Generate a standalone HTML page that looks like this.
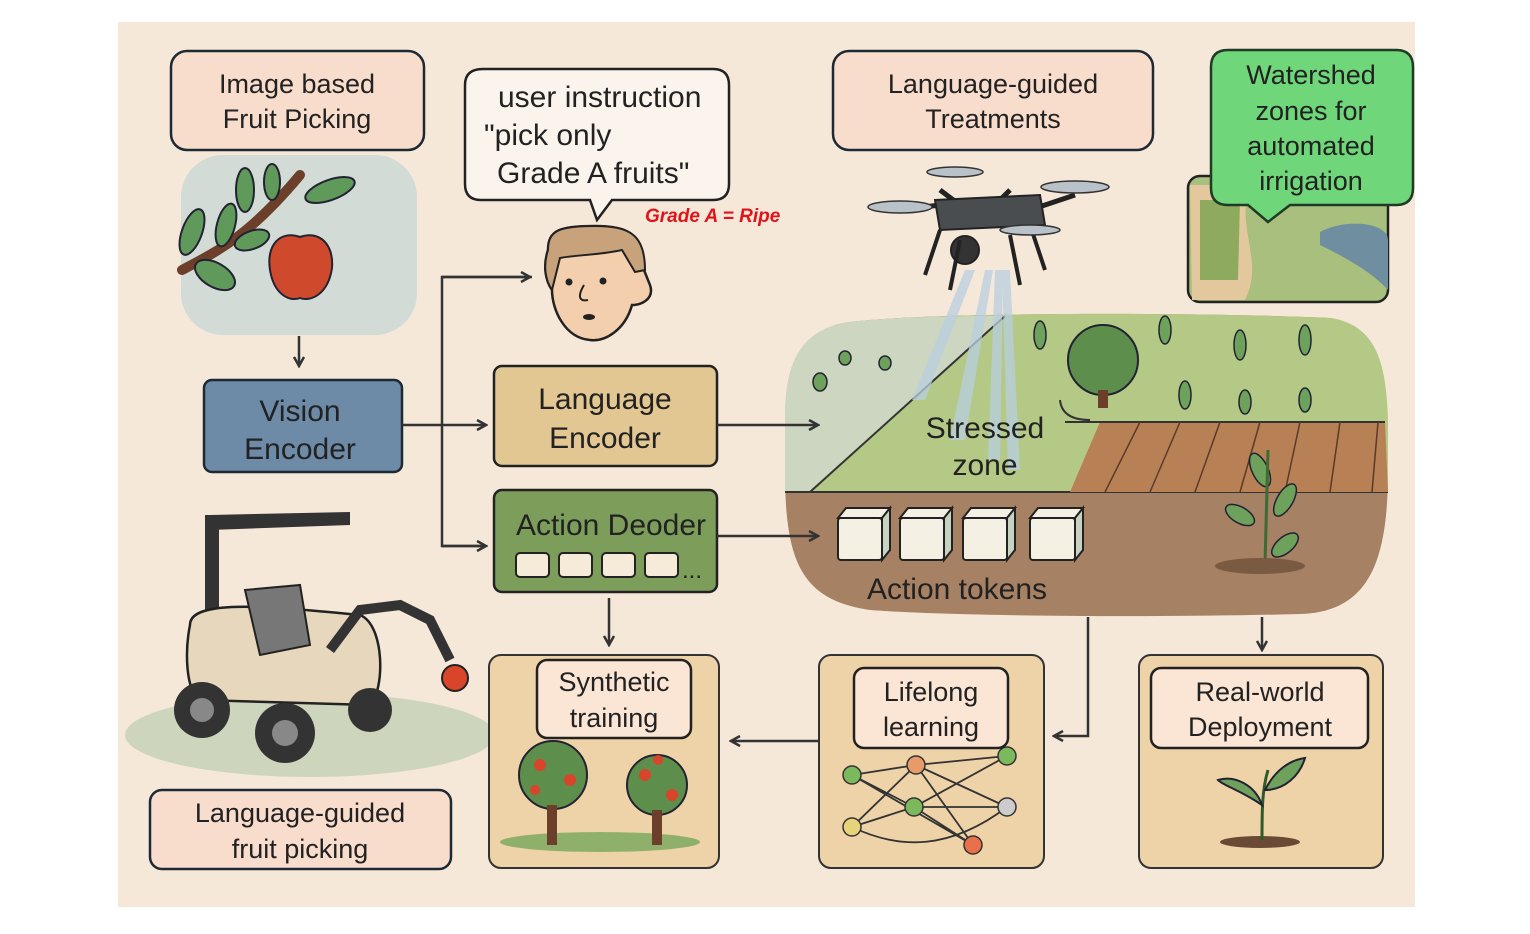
<!DOCTYPE html>
<html><head><meta charset="utf-8"><style>
html,body{margin:0;padding:0;background:#fff;}
svg{display:block;}
text{font-family:"Liberation Sans",sans-serif;fill:#222;}
</style></head><body>
<svg width="1530" height="934" viewBox="0 0 1530 934" xmlns="http://www.w3.org/2000/svg">
<defs>
<marker id="ah" viewBox="0 0 12 12" refX="10" refY="6" markerWidth="12" markerHeight="12" markerUnits="userSpaceOnUse" orient="auto">
<path d="M1,1 L10,6 L1,11" fill="none" stroke="#333" stroke-width="2.5"/>
</marker>
</defs>
<rect x="118" y="22" width="1297" height="885" fill="#f6e8d9"/>

<rect x="171" y="51" width="253" height="99" rx="16" fill="#f8dccc" stroke="#1e2a33" stroke-width="2.5"/>
<text x="297" y="93" font-size="27" text-anchor="middle">Image based</text>
<text x="297" y="128" font-size="27" text-anchor="middle">Fruit Picking</text>

<rect x="181" y="155" width="236" height="180" rx="42" fill="#d2dbd5"/>
<path d="M182,270 C220,250 250,235 300,175" stroke="#6b3f2a" stroke-width="10" fill="none" stroke-linecap="round"/>
<g fill="#5f9a5a" stroke="#223" stroke-width="2">
<ellipse cx="192" cy="232" rx="10" ry="24" transform="rotate(20 192 232)"/>
<ellipse cx="226" cy="225" rx="9" ry="22" transform="rotate(15 226 225)"/>
<ellipse cx="245" cy="190" rx="9" ry="22"/>
<ellipse cx="272" cy="182" rx="8" ry="18"/>
<ellipse cx="330" cy="190" rx="26" ry="10" transform="rotate(-20 330 190)"/>
<ellipse cx="215" cy="275" rx="22" ry="12" transform="rotate(30 215 275)"/>
<ellipse cx="252" cy="240" rx="18" ry="9" transform="rotate(-20 252 240)"/>
</g>
<path d="M300,237 C280,230 266,245 270,270 C274,295 290,302 300,298 C310,302 328,295 332,268 C334,245 320,230 300,237Z" fill="#cf4a2c" stroke="#223" stroke-width="2"/>

<line x1="299" y1="336" x2="299" y2="366" stroke="#333" stroke-width="2.5" marker-end="url(#ah)"/>

<rect x="204" y="380" width="198" height="92" rx="8" fill="#6d8aa6" stroke="#1e2a33" stroke-width="2.5"/>
<text x="300" y="421" font-size="30" text-anchor="middle">Vision</text>
<text x="300" y="459" font-size="30" text-anchor="middle">Encoder</text>

<path d="M483,69 H713 Q729,69 729,85 V184 Q729,200 713,200 H612 L597,220 L590,200 H481 Q465,200 465,184 V85 Q465,69 483,69Z" fill="#fbf4ec" stroke="#222" stroke-width="2.5"/>
<text x="498" y="107" font-size="30">user instruction</text>
<text x="484" y="145" font-size="30">"pick only</text>
<text x="497" y="183" font-size="30">Grade A fruits"</text>
<text x="645" y="222" font-size="19" font-weight="bold" font-style="italic" style="fill:#e0141a">Grade A = Ripe</text>

<path d="M548,250 C548,230 560,226 595,226 C630,226 640,235 640,260 L650,285 C655,300 640,305 632,305 C625,330 605,342 590,340 C565,338 552,310 552,290 C545,280 543,265 548,250Z" fill="#f4cfae" stroke="#222" stroke-width="2.5"/>
<path d="M548,250 C548,230 560,226 595,226 C630,226 645,235 645,270 L635,272 L622,250 C600,255 575,255 560,258 L552,290 C545,280 543,265 548,250Z" fill="#c8a27a" stroke="#222" stroke-width="2"/>
<circle cx="569" cy="282" r="3.5" fill="#222"/><circle cx="603" cy="281" r="3.5" fill="#222"/>
<path d="M584,285 C578,295 578,302 588,300" fill="none" stroke="#222" stroke-width="2"/>
<ellipse cx="589" cy="317" rx="6" ry="3" fill="#222"/>

<line x1="402" y1="425" x2="486" y2="425" stroke="#333" stroke-width="2.5" marker-end="url(#ah)"/>
<polyline points="532,277 442,277 442,546 486,546" fill="none" stroke="#333" stroke-width="2.5"/>
<line x1="442" y1="277" x2="530" y2="277" stroke="#333" stroke-width="2.5" marker-end="url(#ah)"/>
<line x1="442" y1="546" x2="486" y2="546" stroke="#333" stroke-width="2.5" marker-end="url(#ah)"/>

<rect x="494" y="366" width="223" height="100" rx="8" fill="#e2c793" stroke="#222" stroke-width="2.5"/>
<text x="605" y="409" font-size="30" text-anchor="middle">Language</text>
<text x="605" y="448" font-size="30" text-anchor="middle">Encoder</text>

<rect x="494" y="490" width="223" height="102" rx="8" fill="#7c9e5a" stroke="#222" stroke-width="2.5"/>
<text x="611" y="535" font-size="30" text-anchor="middle">Action Deoder</text>
<g fill="#f6ead8" stroke="#222" stroke-width="2">
<rect x="516" y="553" width="33" height="24" rx="4"/><rect x="559" y="553" width="33" height="24" rx="4"/>
<rect x="602" y="553" width="33" height="24" rx="4"/><rect x="645" y="553" width="33" height="24" rx="4"/>
</g>
<text x="682" y="578" font-size="24">...</text>
<line x1="609" y1="598" x2="609" y2="645" stroke="#333" stroke-width="2.5" marker-end="url(#ah)"/>

<path d="M850,322 C930,312 1200,312 1330,318 C1380,325 1388,380 1388,470 C1388,560 1370,612 1300,614 C1150,618 950,616 870,610 C800,600 785,560 785,470 C785,380 790,330 850,322Z" fill="#a68163"/>
<path d="M850,322 C930,312 1200,312 1330,318 C1380,325 1386,370 1388,420 L1388,492 L785,492 L785,420 C785,370 795,330 850,322Z" fill="#b4c986"/>
<path d="M850,322 C880,318 940,316 1005,316 L810,492 L785,492 L785,420 C785,370 795,330 850,322Z" fill="#cdd6c0"/>
<path d="M1005,316 L810,492" stroke="#333" stroke-width="2"/>
<line x1="785" y1="492" x2="1388" y2="492" stroke="#333" stroke-width="2"/>
<path d="M1100,422 L1385,422 L1388,492 L1070,492Z" fill="#b88155"/>
<line x1="1065" y1="422" x2="1385" y2="422" stroke="#333" stroke-width="2"/>
<path d="M1060,400 Q1062,420 1090,420" fill="none" stroke="#333" stroke-width="2"/>
<g stroke="#5a3a28" stroke-width="1.5">
<line x1="1140" y1="422" x2="1105" y2="492"/><line x1="1180" y1="422" x2="1150" y2="492"/>
<line x1="1220" y1="422" x2="1195" y2="492"/><line x1="1260" y1="422" x2="1240" y2="492"/>
<line x1="1300" y1="422" x2="1285" y2="492"/><line x1="1340" y1="422" x2="1330" y2="492"/>
<line x1="1378" y1="422" x2="1372" y2="492"/>
</g>
<circle cx="1103" cy="360" r="35" fill="#5e8e4b" stroke="#223" stroke-width="2"/>
<rect x="1098" y="390" width="10" height="18" fill="#6b3f2a"/>
<g fill="#6ea25c" stroke="#223" stroke-width="1.5">
<ellipse cx="1040" cy="335" rx="6" ry="14"/><ellipse cx="1165" cy="330" rx="6" ry="14"/>
<ellipse cx="1240" cy="345" rx="6" ry="15"/><ellipse cx="1305" cy="340" rx="6" ry="15"/>
<ellipse cx="1185" cy="395" rx="6" ry="14"/><ellipse cx="1245" cy="402" rx="6" ry="12"/>
<ellipse cx="1305" cy="400" rx="6" ry="12"/><ellipse cx="820" cy="382" rx="7" ry="9"/>
<ellipse cx="845" cy="358" rx="6" ry="7"/><ellipse cx="885" cy="363" rx="6" ry="7"/>
<ellipse cx="1260" cy="470" rx="8" ry="18" transform="rotate(-25 1260 470)"/>
<ellipse cx="1285" cy="500" rx="8" ry="18" transform="rotate(30 1285 500)"/>
<ellipse cx="1240" cy="515" rx="8" ry="16" transform="rotate(-60 1240 515)"/>
<ellipse cx="1285" cy="545" rx="8" ry="16" transform="rotate(50 1285 545)"/>
</g>
<line x1="1265" y1="565" x2="1268" y2="450" stroke="#3e6b35" stroke-width="3"/>
<ellipse cx="1260" cy="566" rx="45" ry="8" fill="#7b5a42"/>
<g fill="#b9cfe0" opacity="0.75">
<polygon points="965,270 975,270 925,400 912,400"/>
<polygon points="985,270 993,270 965,440 950,440"/>
<polygon points="995,270 1003,270 1000,460 988,460"/>
<polygon points="1002,270 1010,270 1020,470 1008,470"/>
</g>
<text x="985" y="438" font-size="30" text-anchor="middle">Stressed</text>
<text x="985" y="475" font-size="30" text-anchor="middle">zone</text>
<g fill="#f5f0e4" stroke="#222" stroke-width="2">
<rect x="838" y="518" width="44" height="42" rx="3"/><path d="M838,518 L846,508 L890,508 L882,518Z"/><path d="M882,518 L890,508 L890,550 L882,560Z" fill="#c8d2c0"/>
<rect x="900" y="518" width="44" height="42" rx="3"/><path d="M900,518 L908,508 L952,508 L944,518Z"/><path d="M944,518 L952,508 L952,550 L944,560Z" fill="#c8d2c0"/>
<rect x="963" y="518" width="44" height="42" rx="3"/><path d="M963,518 L971,508 L1015,508 L1007,518Z"/><path d="M1007,518 L1015,508 L1015,550 L1007,560Z" fill="#c8d2c0"/>
<rect x="1030" y="518" width="45" height="42" rx="3"/><path d="M1030,518 L1038,508 L1083,508 L1075,518Z"/><path d="M1075,518 L1083,508 L1083,550 L1075,560Z" fill="#c8d2c0"/>
</g>
<text x="957" y="599" font-size="30" text-anchor="middle">Action tokens</text>

<line x1="717" y1="425" x2="818" y2="425" stroke="#333" stroke-width="2.5" marker-end="url(#ah)"/>
<line x1="717" y1="536" x2="818" y2="536" stroke="#333" stroke-width="2.5" marker-end="url(#ah)"/>

<g stroke="#222" stroke-width="2">
<line x1="900" y1="210" x2="940" y2="205" stroke-width="5"/><line x1="1030" y1="210" x2="1075" y2="195" stroke-width="5"/>
<line x1="940" y1="190" x2="960" y2="205" stroke-width="5"/><line x1="1010" y1="190" x2="995" y2="205" stroke-width="5"/>
<path d="M935,200 L1040,195 L1045,225 L940,230Z" fill="#4a4d50"/>
<circle cx="965" cy="250" r="14" fill="#333"/>
<path d="M940,230 L925,275 M1030,225 L1045,270 M960,240 L950,290 M1010,235 L1020,285" fill="none" stroke-width="4"/>
</g>
<g fill="#b8c2c8" stroke="#333" stroke-width="1.5">
<ellipse cx="900" cy="207" rx="32" ry="6"/><ellipse cx="1075" cy="187" rx="34" ry="6"/>
<ellipse cx="955" cy="172" rx="28" ry="5"/><ellipse cx="1030" cy="230" rx="30" ry="5"/>
</g>

<rect x="833" y="51" width="320" height="99" rx="16" fill="#f8dccc" stroke="#1e2a33" stroke-width="2.5"/>
<text x="993" y="93" font-size="27" text-anchor="middle">Language-guided</text>
<text x="993" y="128" font-size="27" text-anchor="middle">Treatments</text>

<rect x="1188" y="176" width="200" height="126" rx="12" fill="#a8bf7d" stroke="#222" stroke-width="2.5"/>
<path d="M1190,185 L1250,185 C1235,230 1265,260 1245,300 L1192,300Z" fill="#e2c89c"/>
<path d="M1200,200 L1240,200 L1238,280 L1200,280Z" fill="#8eaa5e"/>
<path d="M1320,232 C1345,218 1388,222 1388,240 L1388,290 C1370,270 1340,255 1320,245Z" fill="#6f8fa0"/>
<path d="M1228,50 H1396 Q1413,50 1413,67 V188 Q1413,205 1396,205 H1290 L1268,222 L1248,205 H1228 Q1211,205 1211,188 V67 Q1211,50 1228,50Z" fill="#6fd67a" stroke="#1f3a26" stroke-width="2.5"/>
<text x="1311" y="84" font-size="27" text-anchor="middle">Watershed</text>
<text x="1311" y="120" font-size="27" text-anchor="middle">zones for</text>
<text x="1311" y="155" font-size="27" text-anchor="middle">automated</text>
<text x="1311" y="190" font-size="27" text-anchor="middle">irrigation</text>

<ellipse cx="310" cy="735" rx="185" ry="42" fill="#cdd6bd"/>
<rect x="205" y="515" width="14" height="110" fill="#333"/>
<path d="M210,515 L350,512 L350,525 L210,530Z" fill="#333"/>
<path d="M190,625 C190,600 260,605 360,615 C385,625 385,690 370,705 L200,700 C185,690 185,650 190,625Z" fill="#e6d7bd" stroke="#222" stroke-width="2.5"/>
<path d="M245,590 L300,585 L310,645 L260,655Z" fill="#777" stroke="#222" stroke-width="2"/>
<path d="M330,650 L360,610 L400,605 L430,620 L450,660" fill="none" stroke="#333" stroke-width="10"/>
<circle cx="455" cy="678" r="13" fill="#d9452b" stroke="#222" stroke-width="2"/>
<circle cx="202" cy="710" r="28" fill="#333"/><circle cx="202" cy="710" r="12" fill="#888"/>
<circle cx="285" cy="733" r="30" fill="#333"/><circle cx="285" cy="733" r="13" fill="#888"/>
<circle cx="370" cy="710" r="22" fill="#333"/>

<rect x="150" y="790" width="301" height="79" rx="12" fill="#f8dccc" stroke="#1e2a33" stroke-width="2.5"/>
<text x="300" y="822" font-size="27" text-anchor="middle">Language-guided</text>
<text x="300" y="858" font-size="27" text-anchor="middle">fruit picking</text>

<rect x="489" y="655" width="230" height="213" rx="12" fill="#efd3a8" stroke="#333" stroke-width="2"/>
<ellipse cx="600" cy="842" rx="100" ry="10" fill="#8fb06a"/>
<circle cx="553" cy="775" r="34" fill="#5e8e4b" stroke="#223" stroke-width="2"/>
<circle cx="657" cy="785" r="30" fill="#5e8e4b" stroke="#223" stroke-width="2"/>
<rect x="547" y="805" width="10" height="40" fill="#6b3f2a"/><rect x="652" y="810" width="10" height="35" fill="#6b3f2a"/>
<g fill="#d9452b"><circle cx="540" cy="765" r="6"/><circle cx="570" cy="780" r="6"/><circle cx="535" cy="790" r="5"/><circle cx="645" cy="775" r="6"/><circle cx="672" cy="795" r="6"/><circle cx="658" cy="760" r="5"/></g>
<rect x="537" y="660" width="154" height="78" rx="10" fill="#fbe5d5" stroke="#222" stroke-width="2.5"/>
<text x="614" y="691" font-size="27" text-anchor="middle">Synthetic</text>
<text x="614" y="727" font-size="27" text-anchor="middle">training</text>

<rect x="819" y="655" width="225" height="213" rx="12" fill="#efd3a8" stroke="#333" stroke-width="2"/>
<g stroke="#333" stroke-width="1.8" fill="none">
<path d="M852,775 L916,765 L1007,756 M852,775 L914,807 L1007,807 M852,827 L916,765 L973,845 M916,765 L1007,807 M852,827 L914,807 L1007,756 M914,807 L973,845 M852,775 L973,845 M852,827 C900,850 950,850 1007,807"/>
</g>
<g stroke="#333" stroke-width="1.5">
<circle cx="852" cy="775" r="9" fill="#7cb85c"/><circle cx="916" cy="765" r="9" fill="#e89a6a"/>
<circle cx="1007" cy="756" r="9" fill="#7cb85c"/><circle cx="914" cy="807" r="9" fill="#7cb85c"/>
<circle cx="1007" cy="807" r="9" fill="#ccc"/><circle cx="852" cy="827" r="9" fill="#e6d37a"/>
<circle cx="973" cy="845" r="9" fill="#e8704a"/>
</g>
<rect x="854" y="668" width="154" height="80" rx="10" fill="#fbe5d5" stroke="#222" stroke-width="2.5"/>
<text x="931" y="701" font-size="27" text-anchor="middle">Lifelong</text>
<text x="931" y="736" font-size="27" text-anchor="middle">learning</text>

<rect x="1139" y="655" width="244" height="213" rx="12" fill="#efd3a8" stroke="#333" stroke-width="2"/>
<ellipse cx="1260" cy="842" rx="40" ry="6" fill="#6b4a35"/>
<path d="M1262,840 C1262,810 1262,790 1268,770" stroke="#2f5a2a" stroke-width="3" fill="none"/>
<path d="M1262,805 C1240,790 1222,785 1218,780 C1235,775 1255,785 1262,805Z" fill="#6ea25c" stroke="#223" stroke-width="2"/>
<path d="M1265,790 C1275,770 1290,760 1305,758 C1300,775 1285,790 1265,790Z" fill="#6ea25c" stroke="#223" stroke-width="2"/>
<rect x="1151" y="668" width="217" height="80" rx="10" fill="#fbe5d5" stroke="#222" stroke-width="2.5"/>
<text x="1260" y="701" font-size="27" text-anchor="middle">Real-world</text>
<text x="1260" y="736" font-size="27" text-anchor="middle">Deployment</text>

<line x1="819" y1="741" x2="731" y2="741" stroke="#333" stroke-width="2.5" marker-end="url(#ah)"/>
<polyline points="1088,617 1088,736 1054,736" fill="none" stroke="#333" stroke-width="2.5" marker-end="url(#ah)"/>
<line x1="1262" y1="617" x2="1262" y2="650" stroke="#333" stroke-width="2.5" marker-end="url(#ah)"/>
</svg>
</body></html>
